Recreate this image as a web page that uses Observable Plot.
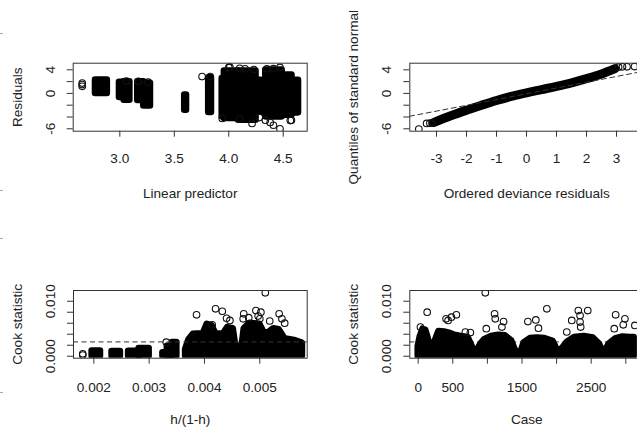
<!DOCTYPE html>
<html><head><meta charset="utf-8">
<script src="https://cdn.jsdelivr.net/npm/d3@7"></script>
<script src="https://cdn.jsdelivr.net/npm/@observablehq/plot@0.6"></script>
<style>
html,body{margin:0;padding:0;background:#fff;overflow:hidden}
#wrap{position:relative;width:637px;height:430px;overflow:hidden;background:#fff}
.p{position:absolute}
.edge{position:absolute;left:0;width:3px;height:1px;background:#aaa}
</style></head>
<body><div id="wrap"></div>
<script>
// ---------- Panel 1: residuals vs linear predictor ----------
const lpTicks = [3.0, 3.5, 4.0, 4.5];
const lpTickLabels = ["3.0", "3.5", "4.0", "4.5"];
const residTicks = [-6, -4, -2, 0, 2, 4];
const residLabelAt = [4, 0, -6];
const residLabels = ["4", "0", "-6"];
// dense clusters (range of circle centres)
const lpBandFrom = [2.777, 2.997, 3.040, 3.165, 3.220, 3.596, 3.725, 3.816, 3.940, 3.960, 4.090, 4.250, 4.340, 4.490, 4.580];
const lpBandTo   = [2.885, 3.040, 3.092, 3.220, 3.281, 3.612, 3.725, 3.841, 3.960, 4.090, 4.250, 4.300, 4.490, 4.580, 4.640];
const resBandLow = [-0.02, -0.70, -1.15, -1.20, -2.12, -2.85, -1.32, -3.24, -3.98, -4.25, -4.54, -3.20, -3.98, -3.70, -3.30];
const resBandHigh= [2.25, 1.90, 1.97, 1.95, 1.70, -0.29, 2.81, 2.64, 2.53, 3.78, 3.78, 2.20, 3.95, 3.10, 2.20];
// isolated points
const lpOut  = [2.655, 2.655, 2.655, 3.755, 3.830, 4.000, 4.010, 4.100, 4.150, 4.230, 4.350, 4.410, 4.470, 3.060, 3.170, 3.260, 3.940, 4.100, 4.214, 4.336, 4.380, 4.410, 4.470, 4.565, 4.575, 4.280];
const resOut = [1.20, 1.50, 1.75, 2.86, 2.86, 4.40, 4.44, 4.25, 4.17, 4.05, 4.17, 4.20, 4.40, 2.10, 2.05, 1.90, -4.25, -4.35, -5.10, -4.54, -4.93, -5.40, -6.00, -4.60, -4.54, -4.10];

// ---------- Panel 2: QQ plot ----------
const qqTicks = [-3, -2, -1, 0, 1, 2, 3];
const qqTickLabels = ["-3", "-2", "-1", "0", "1", "2", "3"];
const qqX = [-3.10, -2.5, -2.0, -1.5, -1.0, -0.5, 0, 0.5, 1.0, 1.5, 2.0, 2.5, 2.95];
const qqY = [-4.95, -3.75, -2.85, -2.0, -1.2, -0.5, 0.1, 0.65, 1.2, 1.8, 2.5, 3.3, 4.2];
const qqOutX = [-3.59, -3.33, -3.22, -3.15, 3.07, 3.20, 3.35, 3.60, 3.80];
const qqOutY = [-6.05, -5.10, -5.05, -5.00, 4.45, 4.50, 4.50, 4.55, 4.60];
const qqRefX = [-3.9, 3.9];
const qqRefY = [-3.88, 3.75];

// ---------- Panel 3: Cook statistic vs h/(1-h) ----------
const hTicks = [0.002, 0.003, 0.004, 0.005];
const hTickLabels = ["0.002", "0.003", "0.004", "0.005"];
const cookTicks = [0, 0.002, 0.004, 0.006, 0.008, 0.010];
const cookLabelAt = [0.010, 0];
const cookLabels = ["0.010", "0.000"];
const cookCut = 0.0026;
const hBandFrom = [0.00197, 0.00233, 0.00263, 0.00282, 0.00325, 0.00333, 0.00342];
const hBandTo   = [0.00212, 0.00248, 0.00282, 0.00300, 0.00333, 0.00342, 0.00350];
const hBandTop  = [0.00095, 0.00085, 0.00090, 0.00140, 0.00060, 0.00180, 0.00250];
const hMassX   = [0.00366, 0.00372, 0.00380, 0.00398, 0.00405, 0.00414, 0.00420, 0.00434, 0.00442, 0.00452, 0.00456, 0.00461, 0.00468, 0.00472, 0.00482, 0.00500, 0.00507, 0.00515, 0.00525, 0.00535, 0.00545, 0.00555, 0.00565, 0.00577];
const hMassTop = [0.0012, 0.0030, 0.0040, 0.0041, 0.0058, 0.0055, 0.0041, 0.0040, 0.0052, 0.0050, 0.0022, 0.0013, 0.0018, 0.0050, 0.0060, 0.0058, 0.0044, 0.0042, 0.0050, 0.0048, 0.0032, 0.0030, 0.0028, 0.0024];
const hOutX = [0.00180, 0.00180, 0.00331, 0.003857, 0.004201, 0.004322, 0.00440, 0.00446, 0.00414, 0.00510, 0.00471, 0.00470, 0.00493, 0.00502, 0.00500, 0.00497, 0.00518, 0.00535, 0.00540, 0.00545, 0.00480];
const hOutY = [0.00020, 0.00045, 0.00255, 0.00753, 0.00862, 0.00818, 0.00690, 0.00650, 0.00570, 0.01153, 0.00770, 0.00680, 0.00830, 0.00800, 0.00680, 0.00730, 0.00640, 0.00770, 0.00680, 0.00600, 0.00700];

// ---------- Panel 4: Cook statistic vs case ----------
const caseTicks = [0, 500, 1000, 1500, 2000, 2500, 3000];
const caseLabelAt = [0, 500, 1500, 2500];
const caseLabels = ["0", "500", "1500", "2500"];
const caseEnvX   = [1, 30, 70, 110, 150, 180, 215, 240, 300, 380, 450, 530, 620, 720, 780, 805, 850, 900, 960, 1060, 1160, 1260, 1350, 1400, 1440, 1490, 1530, 1620, 1720, 1830, 1950, 2010, 2045, 2090, 2160, 2260, 2400, 2530, 2620, 2670, 2700, 2760, 2860, 2960, 3060, 3120];
const caseEnvTop = [0.0018, 0.0035, 0.0049, 0.0047, 0.0030, 0.0009, 0.0008, 0.0025, 0.0045, 0.0044, 0.0042, 0.0038, 0.0036, 0.0034, 0.0018, 0.0007, 0.0009, 0.0021, 0.0030, 0.0036, 0.0038, 0.0037, 0.0028, 0.0012, 0.0006, 0.0008, 0.0024, 0.0032, 0.0033, 0.0032, 0.0027, 0.0011, 0.0007, 0.0015, 0.0026, 0.0034, 0.0036, 0.0033, 0.0022, 0.0007, 0.0008, 0.0022, 0.0032, 0.0035, 0.0034, 0.0034];
const caseOutX = [130, 970, 1859, 552, 480, 403, 432, 1104, 1114, 1234, 1210, 984, 1585, 1700, 1738, 2314, 2450, 2339, 2219, 2339, 2348, 2147, 2853, 2987, 2963, 2833, 3131, 682, 754, 33];
const caseOutY = [0.0080, 0.01152, 0.00861, 0.00752, 0.0071, 0.0068, 0.0065, 0.0077, 0.0068, 0.0063, 0.0053, 0.0050, 0.0063, 0.0066, 0.0051, 0.0083, 0.0083, 0.0074, 0.0065, 0.0062, 0.0053, 0.0044, 0.00752, 0.0068, 0.0057, 0.0050, 0.0056, 0.0044, 0.0043, 0.0053];

// ---------- helpers ----------
const FONT = "'Liberation Sans', Arial, Helvetica, sans-serif";
const INK = "#222";
const R = 3.3;

function axesMarks(o) {
  return [
    Plot.frame({stroke: "#333", strokeWidth: 1}),
    Plot.axisX({ticks: o.xTicks, tickSize: 6, tickFormat: () => "", label: null, stroke: "#333"}),
    Plot.axisY({ticks: o.yTicks, tickSize: 6, tickFormat: () => "", label: null, stroke: "#333"}),
    Plot.text(o.xLabelAt, {x: d => d, text: (d, i) => o.xLabels[i], frameAnchor: "bottom", dy: o.xLabDy, lineAnchor: "middle", fill: INK}),
    Plot.text(o.yLabelAt, {y: d => d, text: (d, i) => o.yLabels[i], frameAnchor: "left", dx: -23, rotate: -90, textAnchor: "middle", lineAnchor: "middle", fill: INK}),
    Plot.text([o.xTitle], {frameAnchor: "bottom", dy: o.titleDy, lineAnchor: "middle", fill: INK}),
    Plot.text([o.yTitle], {frameAnchor: "left", dx: -56, rotate: -90, textAnchor: "middle", lineAnchor: "middle", fill: INK})
  ];
}

function panel(o) {
  const svg = Plot.plot({
    width: o.width, height: o.height,
    marginLeft: o.mL, marginRight: o.mR, marginTop: o.mT, marginBottom: o.mB,
    x: {domain: o.xDomain},
    y: {domain: o.yDomain},
    style: {fontFamily: FONT, fontSize: "13.6px", background: "transparent", overflow: "visible", color: INK},
    marks: [...o.marks, ...axesMarks(o)]
  });
  svg.classList.add("p");
  svg.style.left = o.left + "px";
  svg.style.top = o.top + "px";
  document.getElementById("wrap").appendChild(svg);
}

const idx = a => a.map((_, i) => i);
const denseStyle = {fill: "#000", stroke: "#000", strokeWidth: 2 * R, strokeLinejoin: "round", clip: true};
const ringStyle = {r: R, fill: "none", stroke: "#111", strokeWidth: 1.1, clip: true};
const dashStyle = {stroke: "#333", strokeWidth: 1, strokeDasharray: "5,3.5"};

// Panel 1
panel({
  left: 0, top: 0, width: 320, height: 215, mL: 72.7, mR: 13.3, mT: 62.7, mB: 84.3,
  xDomain: [2.572, 4.72], yDomain: [-6.41, 5.12],
  xTicks: lpTicks, yTicks: residTicks, xLabelAt: lpTicks, xLabels: lpTickLabels,
  yLabelAt: residLabelAt, yLabels: residLabels, xLabDy: 27.5, titleDy: 62,
  xTitle: "Linear predictor", yTitle: "Residuals",
  marks: [
    Plot.rect(idx(lpBandFrom), {x1: i => lpBandFrom[i], x2: i => lpBandTo[i], y1: i => resBandLow[i], y2: i => resBandHigh[i], ...denseStyle}),
    Plot.dot(idx(lpOut), {x: i => lpOut[i], y: i => resOut[i], ...ringStyle})
  ]
});

// Panel 2
panel({
  left: 320, top: 0, width: 330, height: 215, mL: 89.3, mR: 6.7, mT: 62.7, mB: 84.3,
  xDomain: [-3.89, 3.91], yDomain: [-6.41, 5.12],
  xTicks: qqTicks, yTicks: residTicks, xLabelAt: qqTicks, xLabels: qqTickLabels,
  yLabelAt: residLabelAt, yLabels: residLabels, xLabDy: 27.5, titleDy: 62,
  xTitle: "Ordered deviance residuals", yTitle: "Quantiles of standard normal",
  marks: [
    Plot.line(idx(qqX), {x: i => qqX[i], y: i => qqY[i], stroke: "#000", strokeWidth: 9, strokeLinecap: "round", strokeLinejoin: "round", curve: "catmull-rom", clip: true}),
    Plot.dot(idx(qqOutX), {x: i => qqOutX[i], y: i => qqOutY[i], ...ringStyle}),
    Plot.line(idx(qqRefX), {x: i => qqRefX[i], y: i => qqRefY[i], ...dashStyle, clip: true})
  ]
});

// Panel 3
panel({
  left: 0, top: 215, width: 320, height: 215, mL: 73, mR: 13.3, mT: 75, mB: 72.3,
  xDomain: [0.001633, 0.005857], yDomain: [-0.00036, 0.01195],
  xTicks: hTicks, yTicks: cookTicks, xLabelAt: hTicks, xLabels: hTickLabels,
  yLabelAt: cookLabelAt, yLabels: cookLabels, xLabDy: 29, titleDy: 61.5,
  xTitle: "h/(1-h)", yTitle: "Cook statistic",
  marks: [
    Plot.rect(idx(hBandFrom), {x1: i => hBandFrom[i], x2: i => hBandTo[i], y1: 0, y2: i => hBandTop[i], ...denseStyle}),
    Plot.areaY(idx(hMassX), {x: i => hMassX[i], y: i => hMassTop[i], ...denseStyle}),
    Plot.dot(idx(hOutX), {x: i => hOutX[i], y: i => hOutY[i], ...ringStyle}),
    Plot.ruleY([cookCut], dashStyle)
  ]
});

// Panel 4
panel({
  left: 320, top: 215, width: 330, height: 215, mL: 89.3, mR: 6.7, mT: 75, mB: 72.3,
  xDomain: [-121, 3260], yDomain: [-0.00036, 0.01195],
  xTicks: caseTicks, yTicks: cookTicks, xLabelAt: caseLabelAt, xLabels: caseLabels,
  yLabelAt: cookLabelAt, yLabels: cookLabels, xLabDy: 29, titleDy: 61.5,
  xTitle: "Case", yTitle: "Cook statistic",
  marks: [
    Plot.ruleY([cookCut], dashStyle),
    Plot.areaY(idx(caseEnvX), {x: i => caseEnvX[i], y: i => caseEnvTop[i], ...denseStyle}),
    Plot.dot(idx(caseOutX), {x: i => caseOutX[i], y: i => caseOutY[i], ...ringStyle})
  ]
});

// small margin marks at the left edge of the picture
[33, 190, 238, 392].forEach(t => {
  const d = document.createElement("div");
  d.className = "edge"; d.style.top = t + "px";
  document.getElementById("wrap").appendChild(d);
});
</script>
</body></html>
